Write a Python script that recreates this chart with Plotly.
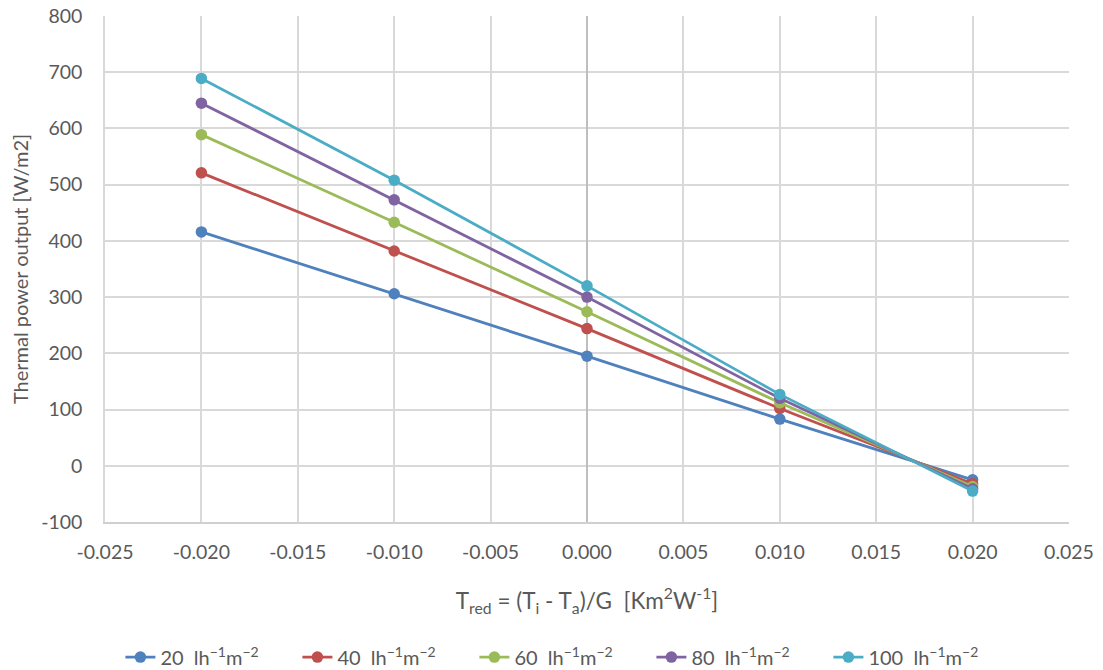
import plotly.graph_objects as go

# Reduced temperature difference (x) and thermal power output per flow rate
t_red = [-0.020, -0.010, 0.000, 0.010, 0.020]
power_20 = [416, 306, 195, 83, -25]
power_40 = [521, 382, 244, 102, -32]
power_60 = [589, 433, 274, 112, -37]
power_80 = [645, 473, 300, 120, -41]
power_100 = [689, 508, 320, 127, -45]

series_names = ["20  lh<sup>−1</sup>m<sup>−2</sup>", "40  lh<sup>−1</sup>m<sup>−2</sup>",
                "60  lh<sup>−1</sup>m<sup>−2</sup>", "80  lh<sup>−1</sup>m<sup>−2</sup>",
                "100  lh<sup>−1</sup>m<sup>−2</sup>"]
series_values = [power_20, power_40, power_60, power_80, power_100]
colors = ["#4F81BD", "#C0504D", "#9BBB59", "#8064A2", "#4BACC6"]

x_ticks = [-0.025, -0.020, -0.015, -0.010, -0.005, 0.000, 0.005, 0.010, 0.015, 0.020, 0.025]
x_tick_text = ["-0.025", "-0.020", "-0.015", "-0.010", "-0.005", "0.000",
               "0.005", "0.010", "0.015", "0.020", "0.025"]
y_ticks = [-100, 0, 100, 200, 300, 400, 500, 600, 700, 800]
y_tick_text = ["-100", "0", "100", "200", "300", "400", "500", "600", "700", "800"]

FONT = "Lato, 'Open Sans', sans-serif"
TEXT = "#595959"

fig = go.Figure()
for name, vals, col in zip(series_names, series_values, colors):
    fig.add_trace(go.Scatter(
        x=t_red, y=vals, name=name, mode="lines+markers",
        line=dict(color=col, width=2.8),
        marker=dict(color=col, size=11.5),
    ))

fig.update_layout(
    width=1103, height=670,
    paper_bgcolor="white", plot_bgcolor="white",
    margin=dict(l=105, r=34, t=16, b=148, autoexpand=False),
    font=dict(family=FONT, size=19, color=TEXT),
    showlegend=True,
    legend=dict(orientation="h", x=0.475, xanchor="center", y=-0.267, yanchor="middle",
                font=dict(family=FONT, size=20, color=TEXT),
                entrywidth=132, tracegroupgap=0),
    xaxis=dict(
        range=[-0.025, 0.025], tickvals=x_ticks, ticktext=x_tick_text,
        showgrid=True, gridcolor="#D9D9D9", gridwidth=1.5,
        zeroline=True, zerolinecolor="#BFBFBF", zerolinewidth=1.5,
        showline=True, linecolor="#D0D0D0", linewidth=1.5,
        ticks="", tickfont=dict(size=19.5, color=TEXT), ticklabelstandoff=12,
        automargin=False,
        title=dict(text="T<sub>red</sub> = (T<sub>i</sub> - T<sub>a</sub>)/G  [Km<sup>2</sup>W<sup>-1</sup>]",
                   font=dict(size=22.5, color=TEXT), standoff=31),
    ),
    yaxis=dict(
        range=[-100, 800], tickvals=y_ticks, ticktext=y_tick_text,
        showgrid=True, gridcolor="#D9D9D9", gridwidth=1.5,
        zeroline=False,
        showline=True, linecolor="#D9D9D9", linewidth=1.5,
        ticks="", tickfont=dict(size=19.5, color=TEXT), ticklabelstandoff=17,
        automargin=False,
        title=dict(text="Thermal power output [W/m2]", font=dict(size=20, color=TEXT), standoff=7),
    ),
)

fig.write_html("out.html")
